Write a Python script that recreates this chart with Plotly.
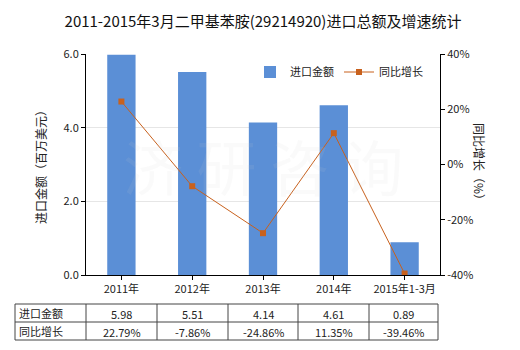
import plotly.graph_objects as go

categories = ["2011年", "2012年", "2013年", "2014年", "2015年1-3月"]
import_values = [5.98, 5.51, 4.14, 4.61, 0.89]
growth_values = [22.79, -7.86, -24.86, 11.35, -39.46]
row_labels = ["进口金额", "同比增长"]
left_ticks = [0, 2, 4, 6]
right_ticks = [-40, -20, 0, 20, 40]

FONT = "Noto Sans CJK SC, Microsoft YaHei, sans-serif"
W, H = 520, 350
L, R, T, B = 86, 80, 54, 75
PW, PH = W - L - R, H - T - B

def px(x):
    return (x - L) / PW

def py(y):
    return (H - B - y) / PH

fig = go.Figure()
fig.add_trace(go.Bar(
    x=categories, y=import_values, name="进口金额",
    marker=dict(color="#5b8fd6", line=dict(width=0)), width=0.4,
    yaxis="y",
))
fig.add_trace(go.Scatter(
    x=categories, y=growth_values, name="同比增长", mode="lines+markers",
    line=dict(color="#c8611d", width=1),
    marker=dict(symbol="square", size=6, color="#c8611d"),
    yaxis="y2",
))

shapes = []
annotations = []
# table grid
col_x = [15, 86, 157, 228, 298, 369, 438]
row_y = [304, 322, 340]
for y in row_y:
    shapes.append(dict(type="line", xref="paper", yref="paper",
                       x0=px(col_x[0]), x1=px(col_x[-1]), y0=py(y), y1=py(y),
                       line=dict(color="#444", width=1)))
for x in col_x:
    shapes.append(dict(type="line", xref="paper", yref="paper",
                       x0=px(x), x1=px(x), y0=py(row_y[0]), y1=py(row_y[-1]),
                       line=dict(color="#444", width=1)))
rows = [[f"{v:.2f}" for v in import_values], [f"{v:.2f}%" for v in growth_values]]
for r, (lab, vals) in enumerate(zip(row_labels, rows)):
    yc = (row_y[r] + row_y[r + 1]) / 2
    annotations.append(dict(text=lab, xref="paper", yref="paper", x=px(col_x[0] + 2),
                            y=py(yc), xanchor="left", yanchor="middle", showarrow=False,
                            font=dict(family=FONT, size=11, color="#222")))
    for c, v in enumerate(vals):
        xc = (col_x[c + 1] + col_x[c + 2]) / 2
        annotations.append(dict(text=v, xref="paper", yref="paper", x=px(xc),
                                y=py(yc + 1), xanchor="center", yanchor="middle", showarrow=False,
                                font=dict(family=FONT, size=11, color="#222")))
# watermark
annotations.append(dict(text="济 研 咨 询", xref="paper", yref="paper", x=0.5, y=0.5,
                        showarrow=False, font=dict(family=FONT, size=60, color="rgba(210,210,210,0.10)")))
# axis titles
annotations.append(dict(text="进口金额（百万美元）", xref="paper", yref="paper", x=px(30), y=0.5,
                        textangle=-90, showarrow=False, font=dict(family=FONT, size=12, color="#222")))
annotations.append(dict(text="同比增长（%）", xref="paper", yref="paper", x=px(490), y=0.5,
                        textangle=90, showarrow=False, font=dict(family=FONT, size=12, color="#222")))

fig.update_layout(
    width=W, height=H,
    margin=dict(l=L, r=R, t=T, b=B),
    paper_bgcolor="white", plot_bgcolor="white",
    title=dict(text="2011-2015年3月二甲基苯胺(29214920)进口总额及增速统计",
               x=0.5, xref="paper", xanchor="center", y=1 - 22 / H, yanchor="middle",
               font=dict(family=FONT, size=15, color="#111")),
    font=dict(family=FONT, size=11, color="#222"),
    xaxis=dict(showline=True, linecolor="black", linewidth=1, ticks="outside", ticklen=4,
               tickcolor="black", showgrid=False, tickfont=dict(size=11)),
    yaxis=dict(range=[0, 6], tickvals=left_ticks, tickformat=".1f", showline=True,
               linecolor="black", ticks="outside", ticklen=4, tickcolor="black",
               showgrid=True, gridcolor="#e6e6e6", zeroline=False, tickfont=dict(size=11)),
    yaxis2=dict(range=[-40, 40], tickmode="array", tickvals=right_ticks,
                ticktext=[f"{v}%" for v in right_ticks], overlaying="y",
                side="right", showline=True, linecolor="black", ticks="outside", ticklen=4,
                tickcolor="black", showgrid=False, zeroline=False, tickfont=dict(size=11)),
    legend=dict(orientation="h", x=px(250), y=py(72), xanchor="left", yanchor="middle",
                bgcolor="rgba(0,0,0,0)", font=dict(family=FONT, size=11), itemwidth=30),
    bargap=0.6,
    shapes=shapes, annotations=annotations,
)

fig.write_html("out.html")
